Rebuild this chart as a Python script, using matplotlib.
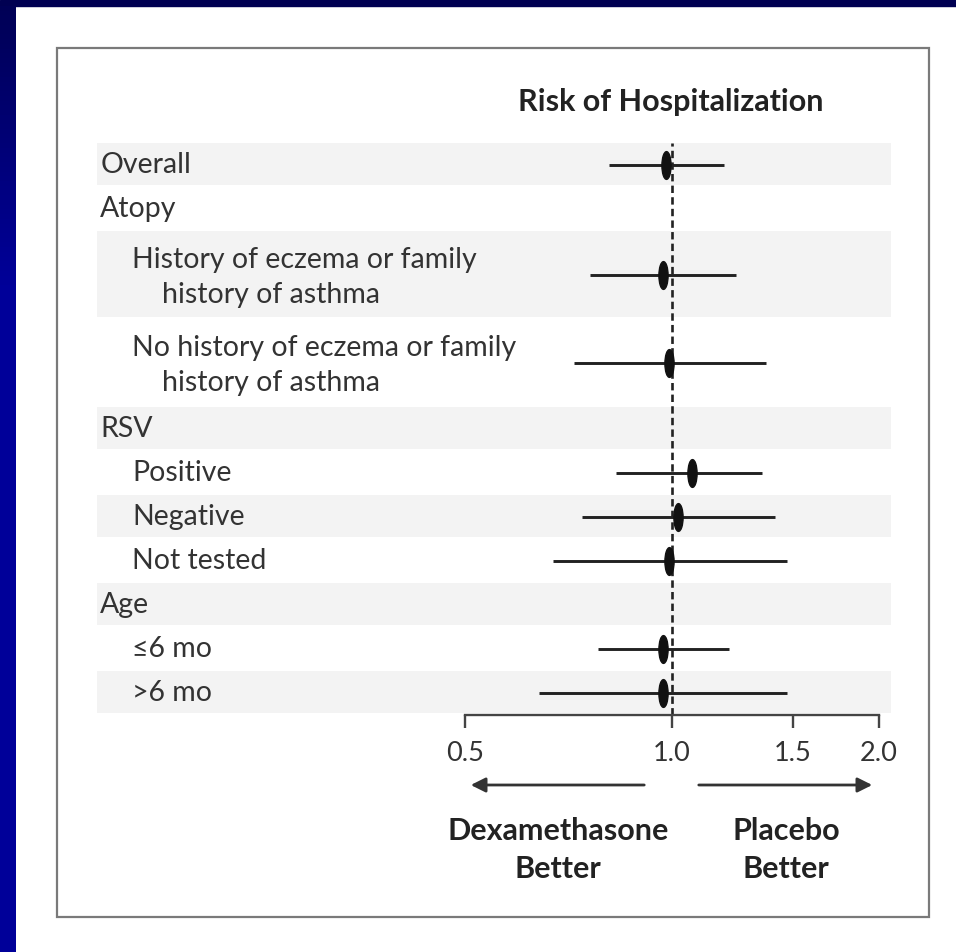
import numpy as np
import matplotlib.pyplot as plt
from matplotlib.path import Path
from matplotlib.patches import Rectangle, FancyArrowPatch
from matplotlib.transforms import Affine2D
from matplotlib.colors import LinearSegmentedColormap

plt.rcParams['font.family'] = ['Lato', 'DejaVu Sans']

W, H = 956, 952

# rows of the forest plot (top to bottom)
line1 = ["Overall", "Atopy", "History of eczema or family", "No history of eczema or family",
         "RSV", "Positive", "Negative", "Not tested", "Age", "\u22646 mo", ">6 mo"]
line2 = ["", "", "history of asthma", "history of asthma",
         "", "", "", "", "", "", ""]
indent = [0, 0, 1, 1, 0, 1, 1, 1, 0, 1, 1]
row_span = [1, 1, 2, 2, 1, 1, 1, 1, 1, 1, 1]

# relative risk of hospitalization and 95% CI
estimate = [0.98, np.nan, 0.97, 0.99, np.nan, 1.07, 1.02, 0.99, np.nan, 0.97, 0.97]
lower = [0.81, np.nan, 0.76, 0.72, np.nan, 0.83, 0.74, 0.67, np.nan, 0.78, 0.64]
upper = [1.19, np.nan, 1.24, 1.37, np.nan, 1.35, 1.41, 1.47, np.nan, 1.21, 1.47]

ticks = [0.5, 1.0, 1.5, 2.0]
tick_labels = ["0.5", "1.0", "1.5", "2.0"]


def fx(x):
    return x / W


def fy(y):
    return 1 - y / H


fig = plt.figure(figsize=(W / 100, H / 100), dpi=100, facecolor='white')

# blue slide frame
fig.patches.append(Rectangle((0, fy(6)), 1, 6 / H, transform=fig.transFigure,
                             color='#000052', zorder=-5))
ax_strip = fig.add_axes([0, 0, 16 / W, fy(6)])
grad = np.concatenate([np.linspace(0, 1, 60), np.ones(140)])[:, None]
ax_strip.imshow(grad, aspect='auto',
                cmap=LinearSegmentedColormap.from_list('frame', ['#000056', '#000099']))
ax_strip.axis('off')

# grey bordered panel
fig.patches.append(Rectangle((fx(57), fy(917)), fx(929) - fx(57), fy(48) - fy(917),
                             transform=fig.transFigure, facecolor='none',
                             edgecolor='#7a7a7a', lw=1.6, zorder=-5))

ax = fig.add_axes([fx(97), fy(715), fx(891) - fx(97), fy(143) - fy(715)])
ax.set_facecolor('none')
ax.set_xscale('log', base=2)
ax.set_xlim(0.1457, 2.082)
total = sum(row_span)
ax.set_ylim(total, 0)

starts = np.concatenate([[0], np.cumsum(row_span)[:-1]])
centers = starts + np.array(row_span) / 2

tr = ax.get_yaxis_transform()
lab_size = 20.5
for i in range(len(line1)):
    if i % 2 == 0:
        ax.axhspan(starts[i] + 0.01, starts[i] + row_span[i] - 0.04,
                   color='#f3f3f3', lw=0, zorder=0)
    x0 = 0.004 if indent[i] == 0 else 0.044
    if line2[i]:
        ax.text(x0, centers[i] - 0.34, line1[i], transform=tr, ha='left', va='center',
                fontsize=lab_size, color='#333333')
        ax.text(x0 + 0.038, centers[i] + 0.45, line2[i], transform=tr, ha='left',
                va='center', fontsize=lab_size, color='#333333')
    else:
        ax.text(x0, centers[i], line1[i], transform=tr, ha='left', va='center',
                fontsize=lab_size, color='#333333')

ax.axvline(1.0, ymin=0, ymax=1, color='#222222', lw=1.9, ls=(0, (2.8, 1.6)), zorder=2)

ax.hlines(centers, lower, upper, color='#222222', lw=2.1, zorder=3)
ellipse = Affine2D().scale(0.33, 1).transform_path(Path.unit_circle())
ax.plot(estimate, centers, ls='none', marker=ellipse, ms=20,
        color='#111111', zorder=4)

for s in ['left', 'top', 'right']:
    ax.spines[s].set_visible(False)
ax.spines['bottom'].set_bounds(0.5, 2.0)
ax.spines['bottom'].set_color('#444444')
ax.spines['bottom'].set_linewidth(1.7)
ax.set_xticks(ticks)
ax.set_xticklabels(tick_labels)
ax.xaxis.set_minor_locator(plt.NullLocator())
ax.set_yticks([])
ax.tick_params(axis='x', direction='out', length=9, width=1.7, color='#444444',
               labelsize=19.5, labelcolor='#333333', pad=10)

# title
fig.text(fx(671), fy(102), "Risk of Hospitalization", ha='center', va='center',
         fontsize=22, fontweight='bold', color='#222222')

# direction arrows
fig.patches.append(FancyArrowPatch(
    (fx(647), fy(785)), (fx(468), fy(785)), transform=fig.transFigure,
    arrowstyle='-|>', mutation_scale=22, lw=2.0, color='#333333'))
fig.patches.append(FancyArrowPatch(
    (fx(696), fy(785)), (fx(875), fy(785)), transform=fig.transFigure,
    arrowstyle='-|>', mutation_scale=22, lw=2.0, color='#333333'))

fig.text(fx(558), fy(850), "Dexamethasone\nBetter", ha='center', va='center',
         fontsize=22, fontweight='bold', color='#222222', linespacing=1.4)
fig.text(fx(786), fy(850), "Placebo\nBetter", ha='center', va='center',
         fontsize=22, fontweight='bold', color='#222222', linespacing=1.4)

fig.savefig('out.png', dpi=100, facecolor='white')
